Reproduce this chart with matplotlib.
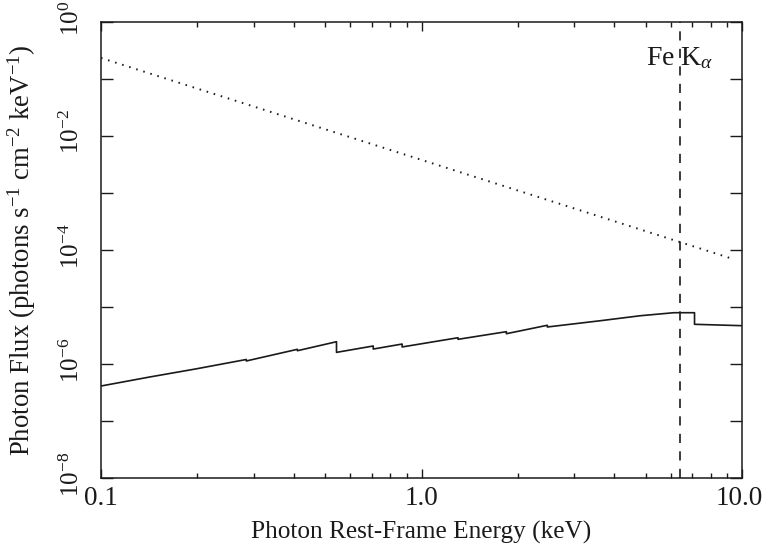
import matplotlib
matplotlib.use("Agg")
import matplotlib.pyplot as plt
import matplotlib.transforms as mtransforms
from matplotlib.ticker import FixedLocator, NullLocator, NullFormatter

plt.rcParams['font.family'] = ['Liberation Serif', 'DejaVu Serif']
plt.rcParams['mathtext.fontset'] = 'custom'
plt.rcParams['mathtext.rm'] = 'Liberation Serif'
plt.rcParams['mathtext.it'] = 'Liberation Serif:italic'
plt.rcParams['mathtext.bf'] = 'Liberation Serif:bold'

# Absorbed model spectrum (solid), with absorption edges (duplicate energies = vertical steps)
model_E = [0.100, 0.142, 0.197, 0.284, 0.284, 0.41, 0.41, 0.543, 0.543, 0.707, 0.707,
           0.87, 0.87, 1.30, 1.30, 1.84, 1.84, 2.47, 2.47, 3.62, 4.83, 6.13, 7.11, 7.11, 10.0]
model_F = [4.11e-7, 5.92e-7, 8.17e-7, 1.20e-6, 1.13e-6, 1.81e-6, 1.71e-6, 2.46e-6, 1.60e-6,
           2.07e-6, 1.83e-6, 2.24e-6, 1.99e-6, 2.89e-6, 2.71e-6, 3.69e-6, 3.40e-6, 4.78e-6,
           4.46e-6, 5.75e-6, 7.04e-6, 7.94e-6, 7.94e-6, 4.97e-6, 4.70e-6]

# Unabsorbed power law (dotted)
pl_E = [0.100, 6.45, 9.38]
pl_F = [0.234, 1.36e-4, 6.95e-5]

fe_line_E = 6.4

xticks = [0.1, 1.0, 10.0]
xtick_labels = ["0.1", "1.0", "10.0"]
xtick_shift_px = [0, 0, -3]
xminor = [0.2, 0.3, 0.4, 0.5, 0.6, 0.7, 0.8, 0.9, 2, 3, 4, 5, 6, 7, 8, 9]
yticks = [1e-8, 1e-7, 1e-6, 1e-5, 1e-4, 1e-3, 1e-2, 1e-1, 1e0]
ylabel_ticks = [1e-8, 1e-6, 1e-4, 1e-2, 1e0]
ylabel_texts = [r"$\mathregular{10^{-8}}$", r"$\mathregular{10^{-6}}$",
                r"$\mathregular{10^{-4}}$", r"$\mathregular{10^{-2}}$",
                r"$\mathregular{10^{0}}$"]

fig = plt.figure(figsize=(7.64, 5.56), dpi=100)
ax = fig.add_axes([101/764, 1-478/556, (742-101)/764, (478-22)/556])

ink = '#1a1a1a'
ax.plot(model_E, model_F, color=ink, lw=1.2)
ax.plot(pl_E, pl_F, color=ink, lw=1.4, linestyle=(0, (0.8, 3.0)))
ax.axvline(fe_line_E, color=ink, lw=1.2, linestyle=(0, (5.5, 5.0)))

ax.set_xscale('log')
ax.set_yscale('log')
ax.set_xlim(0.1, 10.0)
ax.set_ylim(1e-8, 1.0)

ax.xaxis.set_major_locator(FixedLocator(xticks))
ax.xaxis.set_major_formatter(NullFormatter())
ax.xaxis.set_minor_locator(FixedLocator(xminor))
ax.xaxis.set_minor_formatter(NullFormatter())
ax.yaxis.set_major_locator(FixedLocator(yticks))
ax.yaxis.set_major_formatter(NullFormatter())
ax.yaxis.set_minor_locator(NullLocator())

ax.tick_params(axis='x', which='major', direction='in', length=6.5, width=1.0,
               top=True, color=ink)
ax.tick_params(axis='x', which='minor', direction='in', length=3.6, width=1.0,
               top=True, color=ink)
ax.tick_params(axis='y', which='major', direction='in', length=8.6, width=1.0,
               right=True, color=ink)

# x tick labels
for xv, txt, dx in zip(xticks, xtick_labels, xtick_shift_px):
    tr = mtransforms.offset_copy(ax.get_xaxis_transform(), fig=fig, x=dx, y=-8, units='dots')
    ax.text(xv, 0, txt, transform=tr, ha='center', va='top', fontsize=19.5,
            color=ink, clip_on=False)

# rotated y tick labels, shifted slightly upward as in the reference
ytrans = mtransforms.offset_copy(ax.get_yaxis_transform(), fig=fig, x=0, y=4, units='dots')
for yv, txt in zip(ylabel_ticks, ylabel_texts):
    ax.text(-0.0452, yv, txt, transform=ytrans, rotation=90, ha='center', va='center',
            fontsize=18, color=ink, clip_on=False)

for s in ax.spines.values():
    s.set_linewidth(1.1)
    s.set_color(ink)

ax.set_xlabel("Photon Rest-Frame Energy (keV)", fontsize=18.2, color=ink)
ax.xaxis.set_label_coords(0.5, -0.093)
ax.set_ylabel(r"Photon Flux (photons s$^{\mathregular{-1}}$ cm$^{\mathregular{-2}}$ keV$^{\mathregular{-1}}$)",
              fontsize=19.3, color=ink)
ax.yaxis.set_label_coords(-0.098, 0.5)

ax.text(6.4, 0.906, r"Fe K$_{\alpha}$", transform=ax.get_xaxis_transform(),
        fontsize=20, ha='center', va='baseline', color=ink)

fig.savefig("out.png", dpi=100)
